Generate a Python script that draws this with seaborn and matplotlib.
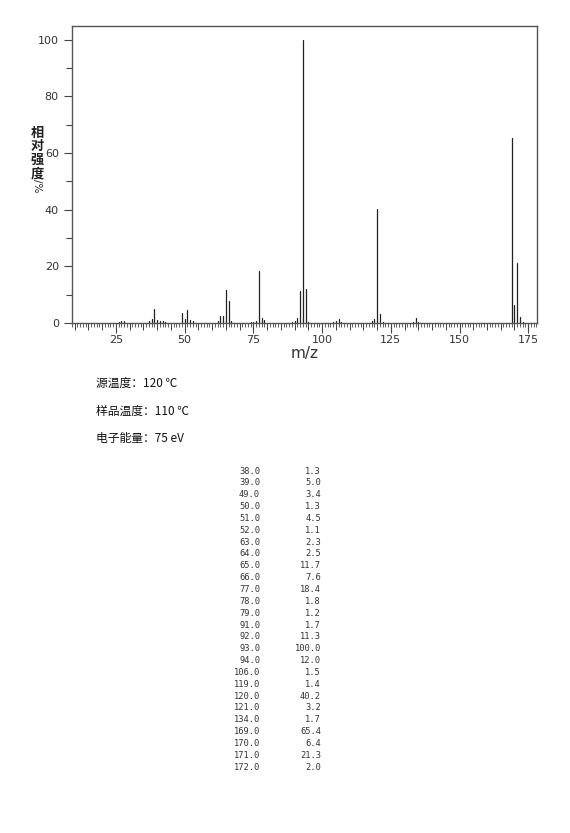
import matplotlib
matplotlib.use("Agg")
import matplotlib.pyplot as plt
from matplotlib.ticker import MultipleLocator, NullFormatter
import seaborn as sns
import pandas as pd

# peaks listed in the table
mz = [38, 39, 49, 50, 51, 52, 63, 64, 65, 66, 77, 78, 79, 91, 92, 93, 94,
      106, 119, 120, 121, 134, 169, 170, 171, 172]
intensity = [1.3, 5.0, 3.4, 1.3, 4.5, 1.1, 2.3, 2.5, 11.7, 7.6, 18.4, 1.8, 1.2,
             1.7, 11.3, 100.0, 12.0, 1.5, 1.4, 40.2, 3.2, 1.7, 65.4, 6.4, 21.3, 2.0]

# small peaks visible on the plot only (estimated)
small_mz = [26, 27, 28, 37, 40, 41, 42, 43, 53, 62, 67, 74, 75, 76, 89, 90, 95,
            104, 105, 107, 118, 122, 133, 135, 173]
small_int = [0.5, 0.8, 0.8, 0.7, 0.9, 0.8, 0.6, 0.5, 0.6, 0.6, 0.7, 0.4, 0.5, 0.8,
             0.5, 0.6, 0.5, 0.5, 0.6, 0.4, 0.6, 0.5, 0.5, 0.4, 0.5]

info_lines = ["源温度：120 ℃", "样品温度：110 ℃", "电子能量：75 eV"]

all_mz = mz + small_mz
all_int = intensity + small_int
rows = []
for m, v in zip(all_mz, all_int):
    rows.append({"mz": m, "y": 0.0, "peak": m})
    rows.append({"mz": m, "y": v, "peak": m})
df = pd.DataFrame(rows)

sns.set_theme(style="white")
plt.rcParams['font.family'] = ['DejaVu Sans', 'Noto Sans CJK SC']

fig = plt.figure(figsize=(5.7, 8.33), dpi=100)
ax = fig.add_axes([72 / 570, 1 - 323 / 833, 465 / 570, 297 / 833])

sns.lineplot(data=df, x="mz", y="y", units="peak", estimator=None, sort=False,
             color="#222222", linewidth=0.9, ax=ax)

ax.set_xlim(9, 178.2)
ax.set_ylim(0, 104.8)
ax.xaxis.set_major_locator(MultipleLocator(25))
ax.xaxis.set_minor_locator(MultipleLocator(1))
ax.yaxis.set_major_locator(MultipleLocator(20))
ax.yaxis.set_minor_locator(MultipleLocator(10))
ax.tick_params(axis="x", which="major", direction="out", length=7, width=0.8,
               color="#444444", labelsize=8, labelcolor="#333333", pad=1.5,
               bottom=True)
ax.tick_params(axis="x", which="minor", direction="out", length=3, width=0.6,
               color="#444444", bottom=True)
ax.tick_params(axis="y", which="major", direction="out", length=6, width=0.8,
               color="#444444", labelsize=8, labelcolor="#333333", left=True)
ax.tick_params(axis="y", which="minor", direction="out", length=4, width=0.8,
               color="#444444", left=True)
sec = ax.secondary_xaxis("bottom")
sec.xaxis.set_major_locator(MultipleLocator(5))
sec.xaxis.set_major_formatter(NullFormatter())
sec.tick_params(length=5, width=0.7, color="#444444")
sec.spines["bottom"].set_visible(False)

for s in ax.spines.values():
    s.set_color("#555555")
    s.set_linewidth(1.0)

ax.set_xlabel("")
ax.set_ylabel("")
fig.text(305 / 570, 1 - 354 / 833, "m/z", ha="center", va="center",
         fontsize=11, color="#333333")
fig.text(37 / 570, 1 - 153 / 833, "相\n对\n强\n度", ha="center", va="center",
         fontsize=9.5, fontweight="bold", linespacing=0.95,
         family=["Noto Sans CJK SC", "DejaVu Sans"], color="#222222")
fig.text(37 / 570, 1 - 186 / 833, "/%", ha="center", va="center", rotation=-90,
         fontsize=7.5, color="#222222")

for i, line in enumerate(info_lines):
    fig.text(96 / 570, 1 - (383 + 28 * i) / 833, line, ha="left", va="center",
             fontsize=8.5, family=["Noto Sans CJK SC", "DejaVu Sans"],
             color="#111111")

for i, (m, v) in enumerate(zip(mz, intensity)):
    y = 1 - (471 + 11.85 * i) / 833
    fig.text(260 / 570, y, f"{m:.1f}", ha="right", va="center", fontsize=6.3,
             family="DejaVu Sans Mono", color="#333333")
    fig.text(321 / 570, y, f"{v:.1f}", ha="right", va="center", fontsize=6.3,
             family="DejaVu Sans Mono", color="#333333")

fig.savefig("out.png", dpi=100, facecolor="white")
